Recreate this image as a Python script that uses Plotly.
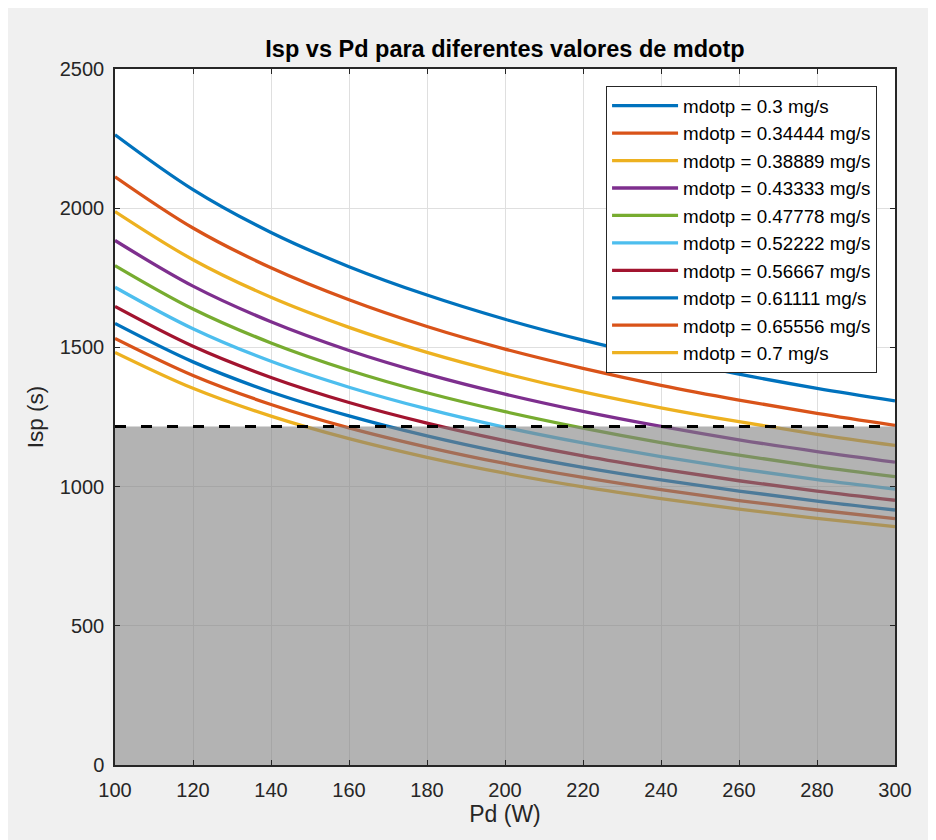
import plotly.graph_objects as go

# ---- data ----
pd_w = [100, 120, 140, 160, 180, 200, 220, 240, 260, 280, 300]
mdotp_labels = ["0.3", "0.34444", "0.38889", "0.43333", "0.47778",
                "0.52222", "0.56667", "0.61111", "0.65556", "0.7"]
isp_0300 = [2264, 2067, 1913, 1790, 1688, 1601, 1526, 1461, 1404, 1353, 1308]
isp_0344 = [2113, 1929, 1786, 1671, 1575, 1494, 1425, 1364, 1311, 1263, 1220]
isp_0389 = [1988, 1815, 1680, 1572, 1482, 1406, 1340, 1283, 1233, 1188, 1148]
isp_0433 = [1884, 1720, 1592, 1489, 1404, 1332, 1270, 1216, 1168, 1126, 1088]
isp_0478 = [1794, 1638, 1516, 1418, 1337, 1269, 1210, 1158, 1113, 1072, 1036]
isp_0522 = [1716, 1567, 1450, 1357, 1279, 1213, 1157, 1108, 1064, 1025, 991]
isp_0567 = [1647, 1504, 1392, 1302, 1228, 1165, 1110, 1063, 1021, 984, 951]
isp_0611 = [1586, 1448, 1340, 1254, 1182, 1121, 1069, 1024, 984, 948, 916]
isp_0656 = [1532, 1399, 1295, 1211, 1142, 1083, 1033, 989, 950, 916, 885]
isp_0700 = [1482, 1353, 1253, 1172, 1105, 1048, 999, 957, 919, 886, 856]
isp_series = [isp_0300, isp_0344, isp_0389, isp_0433, isp_0478,
              isp_0522, isp_0567, isp_0611, isp_0656, isp_0700]
isp_threshold = 1216
x_ticks = [100, 120, 140, 160, 180, 200, 220, 240, 260, 280, 300]
y_ticks = [0, 500, 1000, 1500, 2000, 2500]

colors = ["#0072BD", "#D95319", "#EDB120", "#7E2F8E", "#77AC30",
          "#4DBEEE", "#A2142F", "#0072BD", "#D95319", "#EDB120"]

fig = go.Figure()
for lab, ys, c in zip(mdotp_labels, isp_series, colors):
    fig.add_trace(go.Scatter(
        x=pd_w, y=ys, mode="lines", line=dict(color=c, width=3.3, shape="spline"),
        name=f"mdotp = {lab} mg/s", hoverinfo="skip"))

# shaded region below threshold (drawn over the curves, semi-transparent)
xmin, xmax = pd_w[0], pd_w[-1]
fig.add_trace(go.Scatter(
    x=[xmin, xmax, xmax, xmin, xmin], y=[0, 0, isp_threshold, isp_threshold, 0],
    mode="lines", fill="toself", fillcolor="rgba(128,128,128,0.6)",
    line=dict(width=0, color="rgba(0,0,0,0)"), showlegend=False, hoverinfo="skip"))

# dashed threshold line
fig.add_trace(go.Scatter(
    x=[xmin, xmax], y=[isp_threshold, isp_threshold], mode="lines",
    line=dict(color="black", width=3, dash="11px,15px"),
    showlegend=False, hoverinfo="skip"))

axis_color = "#262626"
font_family = "Liberation Sans, Arial, Helvetica, sans-serif"

W, H = 928, 832  # page body has an 8px offset
fig.update_layout(
    width=W, height=H,
    paper_bgcolor="#f0f0f0", plot_bgcolor="white",
    margin=dict(l=107, r=41, t=61, b=75),
    font=dict(family=font_family, color=axis_color, size=20),
    title=dict(text="<b>Isp vs Pd para diferentes valores de mdotp</b>",
               x=(505 - 8) / W, xanchor="center",
               y=1 - 41 / H, yanchor="middle", yref="container",
               font=dict(size=23.5, color="black")),
    legend=dict(x=0.977, y=0.9756, xanchor="right", yanchor="top",
                bgcolor="white", bordercolor=axis_color, borderwidth=1,
                font=dict(size=18.8, color="black"), tracegroupgap=0,
                itemwidth=66),
    showlegend=True,
)
fig.update_xaxes(
    range=[100, 300], tickvals=x_ticks, ticktext=[str(v) for v in x_ticks],
    showgrid=True, gridcolor="#dfdfdf", gridwidth=1,
    showline=True, linecolor=axis_color, linewidth=1.5, mirror="ticks",
    ticks="inside", ticklen=5, tickcolor=axis_color, zeroline=False,
    tickfont=dict(size=20), ticklabelstandoff=6,
    title=dict(text="Pd (W)", font=dict(size=23), standoff=6))
fig.update_yaxes(
    range=[0, 2500], tickvals=y_ticks, ticktext=[str(v) for v in y_ticks],
    showgrid=True, gridcolor="#dfdfdf", gridwidth=1,
    showline=True, linecolor=axis_color, linewidth=1.5, mirror="ticks",
    ticks="inside", ticklen=5, tickcolor=axis_color, zeroline=False,
    tickfont=dict(size=20), ticklabelstandoff=5,
    title=dict(text="Isp (s)", font=dict(size=22.5), standoff=10))

fig.write_html("out.html")
